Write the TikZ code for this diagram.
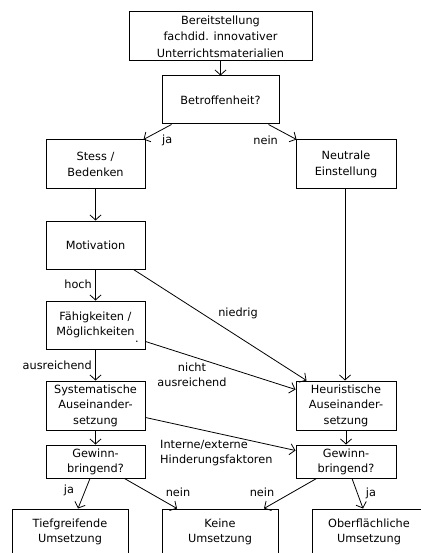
\documentclass[tikz,border=0pt]{standalone}
\usepackage{fontspec}
\setmainfont{DejaVu Sans}
\usepackage{tikz}
\usetikzlibrary{arrows.meta,positioning}
\tikzset{
  stepbox/.style={
    draw=black,
    line width=1pt,
    align=center,
    inner sep=0pt,
    minimum width=99pt,
    minimum height=49pt,
    font=\fontsize{11.3}{15.5}\selectfont
  },
  widebox/.style={
    stepbox,
    minimum width=116pt,
    minimum height=46pt
  },
  askbox/.style={
    stepbox,
    minimum height=33pt,
    font=\fontsize{11.3}{15}\selectfont
  },
  edgetext/.style={
    inner sep=0pt,
    align=center,
    font=\fontsize{11.3}{15}\selectfont
  },
  flowarrow/.style={
    -{Straight Barb[length=5pt,width=11pt]},
    line width=0.8pt,
    draw=black
  }
}
\begin{document}
\begin{tikzpicture}[x=1pt,y=-1pt]
    \useasboundingbox[fill=white] (0,0) rectangle (420,553);

    \node[stepbox, minimum width=183pt, font=\fontsize{11.3}{16.5}\selectfont] (bereit) at (220.5,36.5) {
        Bereitstellung\\
        fachdid. innovativer\\
        Unterrichtsmaterialien
    };
    \node[stepbox, minimum width=117pt, minimum height=48pt] (betroffen) at (220.5,100) {Betroffenheit?};
    \node[stepbox] (stress) at (95.5,164.5) {Stess /\\Bedenken};
    \node[stepbox, minimum width=100pt] (neutral) at (346,164.5) {Neutrale\\Einstellung};
    \node[stepbox, minimum height=48pt] (motiv) at (95.5,245) {Motivation};
    \node[stepbox, minimum height=48pt] (faehig) at (95.5,325) {F\"ahigkeiten /\\M\"oglichkeiten};
    \node[edgetext] (punkt) at (137,342) {.};
    \node[stepbox] (system) at (95.5,405.5) {Systematische\\Auseinander-\\setzung};
    \node[stepbox, minimum width=100pt] (heur) at (346,405.5) {Heuristische\\Auseinander-\\setzung};
    \node[askbox] (gewinnL) at (95.5,461.5) {Gewinn-\\bringend?};
    \node[askbox, minimum width=100pt] (gewinnR) at (346,461.5) {Gewinn-\\bringend?};
    \node[widebox] (tief) at (70,532) {Tiefgreifende\\Umsetzung};
    \node[widebox] (keine) at (220,532) {Keine\\Umsetzung};
    \node[widebox, minimum width=114pt] (ober) at (369,532) {Oberfl\"achliche\\Umsetzung};

    \node[edgetext, anchor=west] (jaA) at (162,140) {ja};
    \node[edgetext, anchor=east] (neinA) at (278,140) {nein};
    \node[edgetext, anchor=east] (hoch) at (92,284) {hoch};
    \node[edgetext] (niedrig) at (238,313) {niedrig};
    \node[edgetext, anchor=east] (ausr) at (92,365) {ausreichend};
    \node[edgetext] (nichtausr) at (192,374.5) {nicht\\ausreichend};
    \node[edgetext, anchor=west, align=left] (hinder) at (160,453) {Interne/externe\\Hinderungsfaktoren};
    \node[edgetext] (jaB) at (69,490) {ja};
    \node[edgetext] (neinB) at (178,492) {nein};
    \node[edgetext] (neinC) at (262,492) {nein};
    \node[edgetext] (jaC) at (371,493) {ja};

    \draw[flowarrow] (bereit) -- (betroffen);
    \draw[flowarrow] ([xshift=10pt]betroffen.south west) -- ([xshift=-2pt]stress.north east);
    \draw[flowarrow] ([xshift=-11pt]betroffen.south east) -- ([xshift=1pt]neutral.north west);
    \draw[flowarrow] (stress) -- (motiv);
    \draw[flowarrow] (motiv) -- (faehig);
    \draw[flowarrow] ([xshift=-12pt]motiv.south east) -- ([xshift=11pt]heur.north west);
    \draw[flowarrow] (faehig) -- (system);
    \draw[flowarrow] ([yshift=8pt]faehig.south east) -- ([yshift=-9pt]heur.north west);
    \draw[flowarrow] ([xshift=-1pt]neutral.south) -- ([xshift=-1pt]heur.north);
    \draw[flowarrow] (system) -- (gewinnL);
    \draw[flowarrow] (heur) -- (gewinnR);
    \draw[flowarrow] ([yshift=13pt]system.south east) -- ([yshift=-6pt]gewinnR.north west);
    \draw[flowarrow] ([xshift=-5.5pt]gewinnL.south) -- ([xshift=8pt]tief.north);
    \draw[flowarrow] ([xshift=-21pt]gewinnL.south east) -- ([xshift=-43pt]keine.north);
    \draw[flowarrow] ([xshift=21pt]gewinnR.south west) -- ([xshift=44pt]keine.north);
    \draw[flowarrow] ([xshift=6pt]gewinnR.south) -- ([xshift=-6pt]ober.north);
\end{tikzpicture}
\end{document}
